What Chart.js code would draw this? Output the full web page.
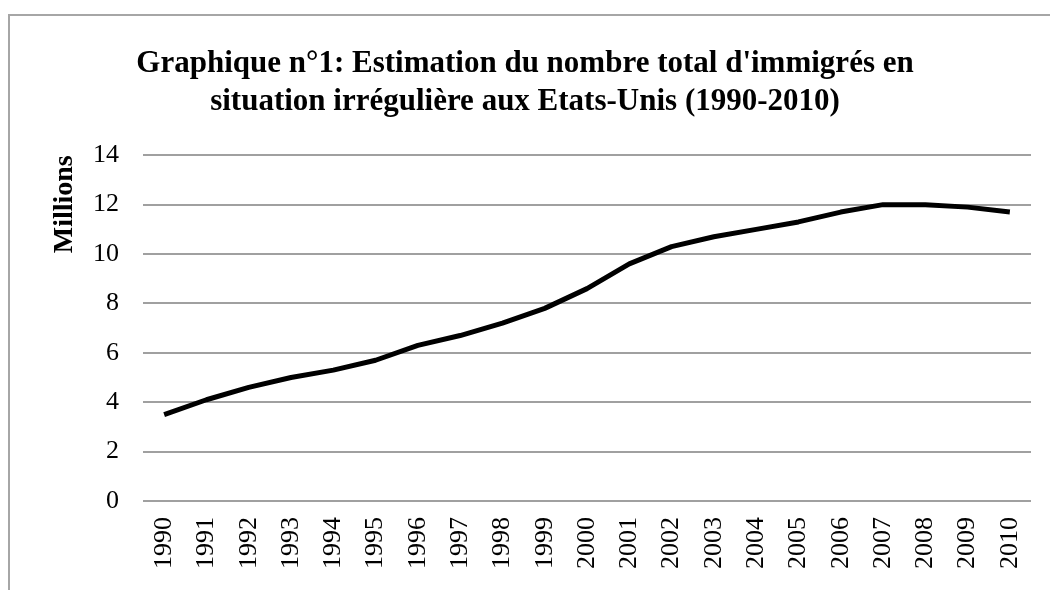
<!DOCTYPE html>
<html>
<head>
<meta charset="utf-8">
<script src="https://cdn.jsdelivr.net/npm/chart.js@4/dist/chart.umd.min.js"></script>
<style>
  html, body { margin: 0; padding: 0; background: #fff; }
  #wrap { position: relative; width: 1050px; height: 590px; overflow: hidden; }
  #frame {
    position: absolute; left: 8px; top: 14px; width: 1100px; height: 600px;
    border-top: 2px solid #a6a6a6; border-left: 2px solid #a6a6a6;
  }
  canvas { position: absolute; left: 0; top: 0; }
</style>
</head>
<body>
<div id="wrap">
  <div id="frame"></div>
  <canvas id="chart" width="1050" height="590"></canvas>
</div>
<script>
const years = ["1990", "1991", "1992", "1993", "1994", "1995", "1996", "1997", "1998", "1999",
  "2000", "2001", "2002", "2003", "2004", "2005", "2006", "2007", "2008", "2009", "2010"];
// estimated undocumented immigrants, millions
const immigrants = [3.5, 4.1, 4.6, 5.0, 5.3, 5.7, 6.3, 6.7, 7.2, 7.8,
  8.6, 9.6, 10.3, 10.7, 11.0, 11.3, 11.7, 12.0, 12.0, 11.9, 11.7];
const titleLines = ["Graphique n°1: Estimation du nombre total d'immigrés en",
  "situation irrégulière aux Etats-Unis (1990-2010)"];
const yTitle = "Millions";

const serif = "'Liberation Serif', 'Times New Roman', serif";

const ctx = document.getElementById("chart").getContext("2d");
new Chart(ctx, {
  type: "line",
  data: {
    labels: years,
    datasets: [{
      data: immigrants,
      borderColor: "#000",
      borderWidth: 5,
      borderJoinStyle: "round",
      pointRadius: 0,
      tension: 0,
      fill: false,
    }],
  },
  options: {
    responsive: false,
    animation: false,
    layout: { padding: 0 },
    plugins: {
      legend: { display: false },
      tooltip: { enabled: false },
      title: {
        display: true,
        text: titleLines,
        color: "#000",
        font: { family: serif, size: 31, weight: "bold", lineHeight: 1.23 },
        padding: { top: 45, bottom: 34 },
      },
    },
    scales: {
      x: {
        offset: true,
        grid: { display: false, drawTicks: false },
        border: { display: false },
        ticks: {
          color: "#000",
          font: { family: serif, size: 26 },
          minRotation: 90,
          maxRotation: 90,
          padding: 16,
          autoSkip: false,
        },
        afterFit: (scale) => {
          scale.height = 89;
          scale.paddingLeft = 0;
          scale.paddingRight = 0;
        },
      },
      y: {
        min: 0,
        max: 14,
        ticks: {
          stepSize: 2,
          color: "#000",
          font: { family: serif, size: 26 },
          padding: 24,
        },
        grid: { color: "#a0a0a0", lineWidth: 2, drawTicks: false },
        border: { display: false },
        title: {
          display: true,
          text: yTitle,
          align: "end",
          color: "#000",
          font: { family: serif, size: 28, weight: "bold" },
          padding: { top: 48, bottom: 0 },
        },
        afterFit: (scale) => {
          scale.width = 143;
          scale.paddingTop = 0;
          scale.paddingBottom = 0;
        },
      },
      // empty right-hand spacer so the title centres on the whole canvas
      spacer: {
        position: "right",
        display: true,
        ticks: { display: false },
        grid: { display: false, drawTicks: false },
        border: { display: false },
        afterFit: (scale) => { scale.width = 19; },
      },
    },
  },
});
</script>
</body>
</html>
